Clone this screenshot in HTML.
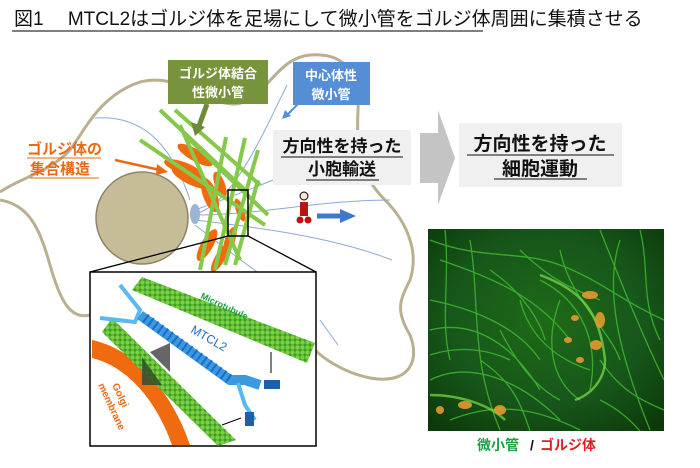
<!DOCTYPE html>
<html><head><meta charset="utf-8"><style>
body{margin:0;background:#fff;}
svg{display:block;font-family:"Liberation Sans","Noto Sans CJK JP",sans-serif;}
</style></head><body>
<svg width="700" height="468" viewBox="0 0 700 468" xmlns="http://www.w3.org/2000/svg">
<defs>
<pattern id="mt" width="5" height="5" patternUnits="userSpaceOnUse"><rect width="5" height="5" fill="#3aa02a"/><circle cx="2.5" cy="2.5" r="2.2" fill="#7ed040"/></pattern>
<radialGradient id="img" cx="0.5" cy="0.45" r="0.7"><stop offset="0" stop-color="#1f6a18"/><stop offset="0.6" stop-color="#17561a"/><stop offset="1" stop-color="#0c3a0a"/></radialGradient>
<clipPath id="ic"><rect x="428" y="229" width="236" height="202"/></clipPath>
</defs>
<!-- title -->
<text x="14" y="25" font-size="19" fill="#111">図1　 MTCL2はゴルジ体を足場にして微小管をゴルジ体周囲に集積させる</text>
<line x1="12" y1="31" x2="483" y2="31" stroke="#333" stroke-width="1.3"/>
<!-- cell outline -->
<path d="M0,192 C20,178 50,172 70,150 C85,130 100,95 140,82 C180,72 205,105 235,104 C265,102 275,58 310,55 C350,52 360,80 358,110 C356,150 360,175 385,200 C405,220 420,250 410,280 C400,300 395,310 410,335 C420,360 410,385 370,378 C340,372 320,355 315,350 M90,315 C70,320 60,300 50,265 C40,230 30,205 0,200" fill="none" stroke="#b8b090" stroke-width="3"/>
<g stroke="#8aaad8" stroke-width="1" fill="none">
<path d="M95,118 C140,115 170,140 190,200"/>
<path d="M190,215 C230,210 260,140 287,85"/>
<path d="M195,210 C250,190 300,170 340,150"/>
<path d="M195,215 C260,215 320,200 390,200"/>
<path d="M195,220 C280,230 340,240 392,260"/>
<path d="M195,225 C240,260 280,290 300,300"/>
<path d="M320,320 L338,345"/>
</g>
<circle cx="142" cy="218" r="46" fill="#c6bd98" stroke="#8c8466" stroke-width="1.5"/>
<ellipse cx="195" cy="214" rx="5" ry="10" fill="#9bb3d4"/>
<g fill="#f06a10">
<ellipse cx="195" cy="155" rx="20" ry="6" transform="rotate(30 195 155)"/>
<ellipse cx="183" cy="168" rx="20" ry="6" transform="rotate(20 183 168)"/>
<ellipse cx="192" cy="178" rx="22" ry="7" transform="rotate(25 192 178)"/>
<ellipse cx="210" cy="195" rx="18" ry="7" transform="rotate(70 210 195)"/>
<ellipse cx="220" cy="185" rx="14" ry="5" transform="rotate(70 220 185)"/>
<ellipse cx="240" cy="210" rx="12" ry="4" transform="rotate(70 240 210)"/>
<ellipse cx="207" cy="245" rx="18" ry="6" transform="rotate(-60 207 245)"/>
<ellipse cx="220" cy="258" rx="16" ry="5" transform="rotate(-60 220 258)"/>
<ellipse cx="230" cy="240" rx="14" ry="5" transform="rotate(-70 230 240)"/>
</g>
<g stroke="#86c84a" stroke-width="4">
<line x1="160" y1="110" x2="245" y2="190"/>
<line x1="175" y1="110" x2="260" y2="185"/>
<line x1="140" y1="140" x2="265" y2="225"/>
<line x1="180" y1="125" x2="240" y2="260"/>
<line x1="226" y1="137" x2="200" y2="270"/>
<line x1="245" y1="138" x2="215" y2="270"/>
<line x1="258" y1="150" x2="225" y2="265"/>
<line x1="258" y1="180" x2="235" y2="265"/>
<line x1="190" y1="140" x2="268" y2="215"/>
</g>
<rect x="228" y="190" width="20" height="46" fill="none" stroke="#000" stroke-width="1.5"/>
<line x1="228" y1="236" x2="90" y2="272" stroke="#000" stroke-width="1.3"/>
<line x1="248" y1="236" x2="316" y2="272" stroke="#000" stroke-width="1.3"/>
<rect x="168" y="60" width="100" height="44" fill="#77933c"/>
<text x="218" y="78" font-size="13" font-weight="bold" fill="#fff" text-anchor="middle">ゴルジ体結合</text>
<text x="218" y="97" font-size="13" font-weight="bold" fill="#fff" text-anchor="middle">性微小管</text>
<line x1="207" y1="104" x2="199" y2="126" stroke="#6e8b38" stroke-width="5"/>
<polygon points="191,122 205,127 195,136" fill="#6e8b38"/>
<rect x="293" y="62" width="77" height="43" fill="#558ed5"/>
<text x="331" y="80" font-size="13" font-weight="bold" fill="#fff" text-anchor="middle">中心体性</text>
<text x="331" y="99" font-size="13" font-weight="bold" fill="#fff" text-anchor="middle">微小管</text>
<line x1="298" y1="104" x2="288" y2="114" stroke="#558ed5" stroke-width="2"/>
<polygon points="282,119 285,110 291,116" fill="#558ed5"/>
<text x="27" y="154" font-size="15" font-weight="bold" fill="#ea6a14">ゴルジ体の</text>
<line x1="27" y1="158" x2="101" y2="158" stroke="#ea6a14"/>
<text x="30" y="174" font-size="15" font-weight="bold" fill="#ea6a14">集合構造</text>
<line x1="30" y1="178" x2="99" y2="178" stroke="#ea6a14"/>
<line x1="115" y1="160" x2="160" y2="170" stroke="#ea6a14" stroke-width="2.5"/>
<polygon points="168,172 157,164 156,175" fill="#ea6a14"/>
<rect x="273" y="130" width="138" height="55" fill="#f0f0f0"/>
<text x="342" y="152" font-size="17" font-weight="bold" fill="#111" text-anchor="middle">方向性を持った</text>
<line x1="281" y1="157" x2="403" y2="157" stroke="#111"/>
<text x="342" y="175" font-size="17" font-weight="bold" fill="#111" text-anchor="middle">小胞輸送</text>
<line x1="306" y1="180" x2="379" y2="180" stroke="#111"/>
<circle cx="304" cy="196" r="4" fill="#f5e6d8" stroke="#000"/>
<rect x="300" y="202" width="8" height="14" fill="#b81414"/>
<circle cx="300" cy="220" r="3.5" fill="#b81414"/><circle cx="308" cy="220" r="3.5" fill="#b81414"/>
<line x1="317" y1="216" x2="342" y2="216" stroke="#3e78c8" stroke-width="5"/>
<polygon points="340,209 356,216 340,223" fill="#3e78c8"/>
<polygon points="420,133 438,133 438,110 455,158 438,205 438,183 420,183" fill="#c4c4c4"/>
<rect x="459" y="123" width="163" height="64" fill="#f0f0f0"/>
<text x="540" y="150" font-size="19" font-weight="bold" fill="#111" text-anchor="middle">方向性を持った</text>
<line x1="467" y1="155" x2="614" y2="155" stroke="#111"/>
<text x="540" y="175" font-size="19" font-weight="bold" fill="#111" text-anchor="middle">細胞運動</text>
<line x1="494" y1="179" x2="587" y2="179" stroke="#111"/>
<!-- microscopy image -->
<rect x="428" y="229" width="236" height="202" fill="url(#img)"/>
<g clip-path="url(#ic)" fill="none" stroke="#45c535" stroke-width="1.3" opacity="0.75">
<path d="M430,240 C480,260 520,250 560,265 C600,280 620,300 664,320"/>
<path d="M540,280 C580,300 600,340 590,390"/>
<path d="M520,300 C530,340 560,360 590,370"/>
<path d="M430,380 C470,360 520,380 560,420"/>
<path d="M470,240 C480,300 470,360 500,430"/>
<path d="M600,230 C620,280 640,330 664,380"/>
<path d="M430,300 C480,310 520,330 540,360"/>
<path d="M620,240 C600,300 630,380 650,430"/>
<path d="M450,420 C500,400 540,410 580,430"/>
<path d="M440,260 C500,280 540,300 570,340"/>
<path d="M430,330 C470,320 510,340 540,390"/>
<path d="M520,250 C550,280 575,290 600,300"/>
<path d="M560,250 C570,300 610,330 620,360"/>
<path d="M600,360 C620,390 640,400 664,410"/>
<path d="M500,330 C520,370 540,390 560,400"/>
<path d="M445,230 C450,280 440,320 450,360"/>
<path d="M640,230 C650,270 640,300 660,340"/>
<path d="M480,360 C510,380 520,400 530,431"/>
<path d="M560,300 C545,340 550,380 580,400"/>
<path d="M600,400 C620,410 630,420 640,431"/>
<path d="M490,270 C520,290 540,320 545,340"/>
<path d="M430,355 C460,345 490,350 510,360"/>
</g>
<g clip-path="url(#ic)" fill="none" stroke="#7ee04a" stroke-width="2.5" opacity="0.7">
<path d="M540,275 C580,290 600,310 605,360 C605,380 590,395 575,400"/>
<path d="M430,395 C460,395 490,405 505,420"/>
</g>
<g fill="#e59a30" opacity="0.9">
<ellipse cx="590" cy="295" rx="8" ry="4"/><ellipse cx="600" cy="320" rx="5" ry="8"/><ellipse cx="596" cy="345" rx="6" ry="5"/><ellipse cx="575" cy="318" rx="4" ry="3"/><ellipse cx="580" cy="360" rx="4" ry="3"/><ellipse cx="568" cy="340" rx="4" ry="3"/>
<ellipse cx="465" cy="405" rx="7" ry="4"/><ellipse cx="500" cy="410" rx="6" ry="5"/><ellipse cx="440" cy="410" rx="4" ry="4"/>
</g>
<text x="477" y="450" font-size="14" font-weight="bold" fill="#1aa040">微小管</text>
<text x="530" y="450" font-size="14" font-weight="bold" fill="#111">/</text>
<text x="540" y="450" font-size="14" font-weight="bold" fill="#e02020">ゴルジ体</text>
<!-- inset -->
<rect x="90" y="272" width="226" height="174" fill="#fff" stroke="#000" stroke-width="1.5"/>
<path d="M92,340 C140,350 175,400 190,445 L172,445 C158,405 130,367 92,358Z" fill="#f06a10"/>
<polygon points="132,290 142,277 315,343 307,363" fill="url(#mt)"/>
<polygon points="102,332 112,318 236,440 218,446" fill="url(#mt)"/>
<text x="200" y="298" font-size="9" font-weight="bold" fill="#1aa040" transform="rotate(25 200 298)">Microtubule</text>
<path d="M120,285 L140,310 L135,322 L100,318" fill="none" stroke="#59b8ee" stroke-width="4"/>
<path d="M140,315 L230,380 L245,380 L260,385" fill="none" stroke="#3a9ae0" stroke-width="10"/>
<path d="M145,318 L232,381" fill="none" stroke="#1e6ac8" stroke-width="10" stroke-dasharray="2 4"/>
<path d="M238,383 L245,405 L255,420" fill="none" stroke="#59b8ee" stroke-width="4"/>
<rect x="264" y="380" width="16" height="9" fill="#1e5eaa"/>
<rect x="245" y="412" width="9" height="14" fill="#1e5eaa"/>
<text x="190" y="332" font-size="12" fill="#1e6ac8" transform="rotate(30 190 332)">MTCL2</text>
<line x1="271" y1="352" x2="271" y2="373" stroke="#000"/>
<line x1="222" y1="425" x2="241" y2="418" stroke="#000"/>
<polygon points="150,352 170,343 170,372" fill="#666"/>
<polygon points="142,357 162,385 142,385" fill="#334d2a" opacity="0.85"/>
<text x="112" y="385" font-size="10" font-weight="bold" fill="#ea6a14" transform="rotate(65 112 385)">Golgi</text>
<text x="98" y="385" font-size="10" font-weight="bold" fill="#ea6a14" transform="rotate(65 98 385)">membrane</text>
</svg>
</body></html>
